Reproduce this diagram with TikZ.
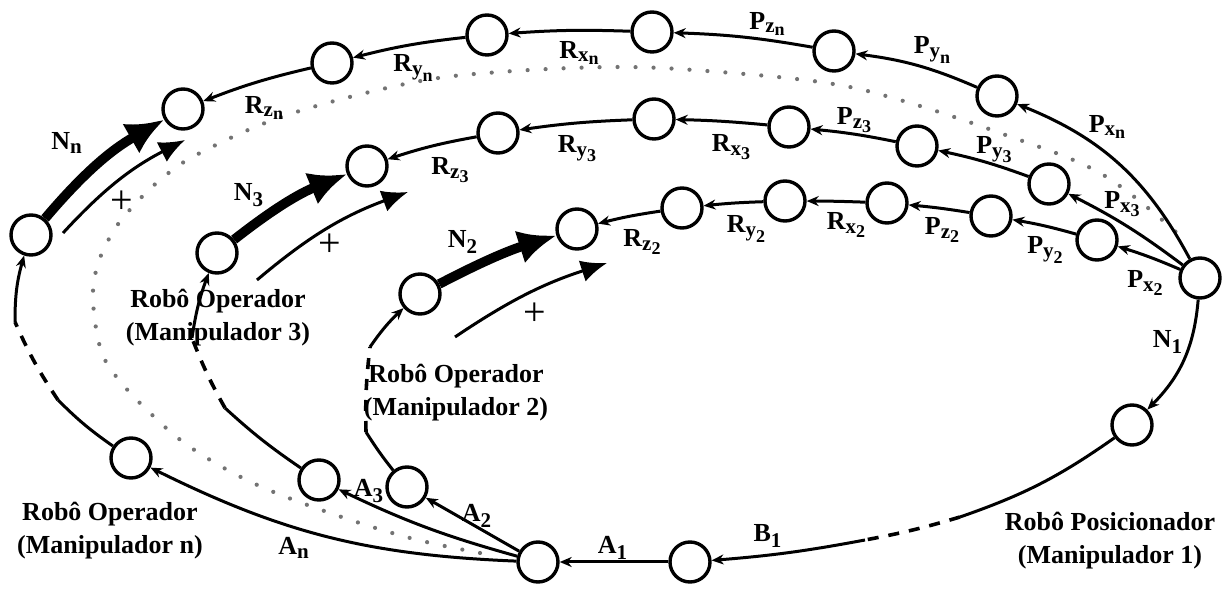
\documentclass[tikz,border=0pt]{standalone}
\usepackage{amsmath}
\usepackage{fontspec}
\setmainfont{Liberation Serif}
\usetikzlibrary{arrows.meta}
\DeclareMathSizes{13}{13}{10.5}{9}
\newcommand{\lab}[3]{$\textbf{#1}_{\textbf{#2}_{\textbf{#3}}}$}
\newcommand{\labs}[2]{$\textbf{#1}_{\textbf{#2}}$}

\begin{document}
\begin{tikzpicture}[x=0.5pt,y=0.5pt,
  st/.style={circle,draw,line width=1.7pt,minimum size=20pt,inner sep=0pt,fill=white},
  edge/.style={line width=1.5pt,-{Stealth[length=6pt,width=5pt]}},
  seg/.style={line width=1.5pt},
  dseg/.style={line width=1.8pt,dash pattern=on 5.5pt off 5pt},
  big/.style={line width=4.8pt,-{Latex[length=19pt,width=17pt]}},
  plus/.style={line width=1.5pt,-{Latex[length=13pt,width=11pt]}},
  dots/.style={black!55,line width=2.1pt,line cap=round,dash pattern=on 0pt off 9pt},
  lbl/.style={font=\fontsize{13}{16}\selectfont\bfseries,inner sep=1pt},
  sgn/.style={font=\fontsize{20}{20}\selectfont,inner sep=0pt},
  txt/.style={font=\fontsize{13}{16.5}\selectfont\bfseries,align=center,inner sep=1pt}]
\useasboundingbox (0,0) rectangle (1226,-592);

% dotted loop between manipulator 3 and n
\draw[dots] plot[smooth,tension=0.6] coordinates {(480,-553) (410,-538) (330,-513) (253,-483) (190,-447) (147,-410) (115,-375) (100,-347) (93,-300) (97,-267) (110,-237) (127,-213) (160,-180) (200,-153) (287,-115) (410,-83) (500,-72) (620,-67) (720,-72) (827,-83) (900,-100) (1000,-133) (1100,-173) (1177,-233)};

% states
\foreach \nm/\x/\y in {hubR/1200/-278, m1/1132/-425, bnode/690/-562, hub/538/-562,
    pnx/997/-96, pny/834/-51, pnz/652/-32, rnx/487/-35, rny/332/-63, rnz/183/-109,
    p3x/1049/-184, p3y/917/-146, p3z/789/-127, r3x/654/-119, r3y/498/-133, r3z/367/-166,
    p2x/1097/-240, p2y/991/-216, p2z/887/-203, r2x/785/-201, r2y/682/-208, r2z/577/-229,
    nn/31/-235, n3/217/-253, n2/420/-294, an/131/-458, a3/319/-480, a2/407/-487}
  \node[st] (\nm) at (\x,\y) {};

% P and R chains
\foreach \a/\b/\k in {hubR/pnx/20, pnx/pny/8, pny/pnz/4, pnz/rnx/3, rnx/rny/4, rny/rnz/4,
    hubR/p3x/5, p3x/p3y/4, p3y/p3z/3, p3z/r3x/2, r3x/r3y/3, r3y/r3z/4,
    hubR/p2x/3, p2x/p2y/3, p2y/p2z/2, p2z/r2x/1, r2x/r2y/2, r2y/r2z/3}
  \draw[edge] (\a) to[bend right=\k] (\b);

% N_i thick arrows and + arrows
\draw[big] (nn) to[bend left=10] (rnz);
\draw[big] (n3) to[bend left=8] (r3z);
\draw[big] (n2) to[bend left=5] (r2z);
\coordinate (pn1) at (63,-233);  \coordinate (pn2) at (185,-140);
\coordinate (p31) at (257,-280); \coordinate (p32) at (408,-192);
\coordinate (p21) at (455,-337); \coordinate (p22) at (607,-263);
\draw[plus] (pn1) to[bend left=10] (pn2);
\draw[plus] (p31) to[bend left=10] (p32);
\draw[plus] (p21) to[bend left=8] (p22);

% positioner
\draw[edge] (hubR) to[bend left=20] (m1);
\coordinate (d1) at (960,-517); \coordinate (d2) at (865,-540);
\draw[seg] (m1) to[bend left=8] (d1);
\draw[dseg] (d1) to[bend left=3] (d2);
\draw[edge] (d2) to[bend left=3] (bnode);
\draw[edge] (bnode) -- (hub);

% A_i arrows out of the hub
\draw[edge] (hub) to[bend left=12] (an);
\draw[edge] (hub) to[bend left=5] (a3);
\draw[edge] (hub) -- (a2);

% operator loops
\coordinate (cn1) at (58,-400);  \coordinate (cn2) at (15,-322);
\coordinate (c31) at (225,-408); \coordinate (c32) at (192,-338);
\coordinate (c21) at (366,-432); \coordinate (c22) at (370,-347);
\draw[seg] (an) to[bend left=5] (cn1);
\draw[dseg] (cn1) to[bend left=5] (cn2);
\draw[edge] (cn2) to[bend left=8] (nn);
\draw[seg] (a3) to[bend left=4] (c31);
\draw[dseg] (c31) to[bend left=4] (c32);
\draw[edge] (c32) to[bend left=6] (n3);
\draw[seg] (a2) to[bend left=3] (c21);
\draw[dseg] (c21) to[bend left=4] (c22);
\draw[edge] (c22) to[bend left=6] (n2);

% labels
\foreach \nm/\x/\y/\t in {lRzn/265/-108/\lab{R}{z}{n}, lRyn/414/-68/\lab{R}{y}{n},
    lRxn/580/-53/\lab{R}{x}{n}, lPzn/768/-24/\lab{P}{z}{n}, lPyn/933/-50/\lab{P}{y}{n},
    lPxn/1108/-127/\lab{P}{x}{n}, lRz3/451/-170/\lab{R}{z}{3}, lRy3/578/-149/\lab{R}{y}{3},
    lRx3/732/-147/\lab{R}{x}{3}, lPz3/855/-120/\lab{P}{z}{3}, lPy3/995/-150/\lab{P}{y}{3},
    lPx3/1123/-204/\lab{P}{x}{3}, lRz2/643/-242/\lab{R}{z}{2}, lRy2/747/-229/\lab{R}{y}{2},
    lRx2/847/-225/\lab{R}{x}{2}, lPz2/943/-230/\lab{P}{z}{2}, lPy2/1046/-250/\lab{P}{y}{2},
    lPx2/1146/-283/\lab{P}{x}{2}, lNn/67/-143/\labs{N}{n}, lN3/249/-195/\labs{N}{3},
    lN2/463/-242/\labs{N}{2}, lN1/1168/-342/\labs{N}{1}, lA1/613/-548/\labs{A}{1},
    lB1/768/-536/\labs{B}{1}, lA2/477/-516/\labs{A}{2}, lA3/369/-491/\labs{A}{3},
    lAn/294/-548/\labs{A}{n}}
  \node[lbl] (\nm) at (\x,\y) {\t};
\node[sgn] (sn) at (122,-202) {+};
\node[sgn] (s3) at (330,-245) {+};
\node[sgn] (s2) at (535,-314) {+};

\node[txt] (opn) at (110,-531) {Robô Operador\\(Manipulador n)};
\node[txt] (op3) at (218,-318) {Robô Operador\\(Manipulador 3)};
\node[txt] (op2) at (456,-393) {Robô Operador\\(Manipulador 2)};
\node[txt] (pos) at (1110,-541) {Robô Posicionador\\(Manipulador 1)};
\end{tikzpicture}
\end{document}
